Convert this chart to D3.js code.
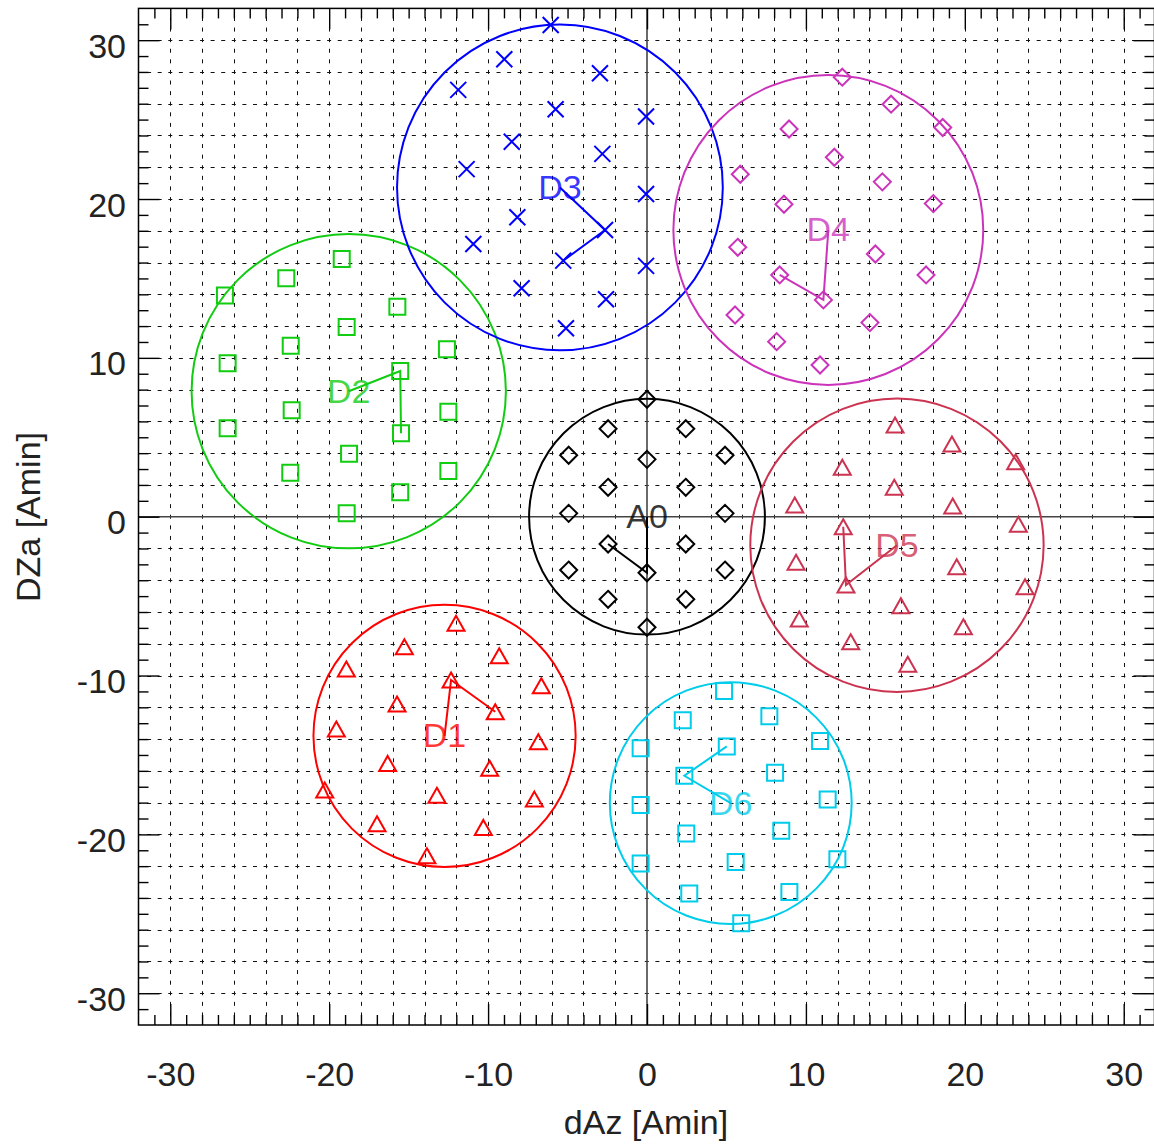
<!DOCTYPE html>
<html>
<head>
<meta charset="utf-8">
<script src="https://cdn.jsdelivr.net/npm/d3@7"></script>
<style>
  html, body { margin: 0; padding: 0; background: #fff; }
  svg { display: block; font-family: "Liberation Sans", Arial, Helvetica, sans-serif; }
</style>
</head>
<body>
<svg id="chart" width="1154" height="1147"></svg>
<script>
// ---------------- DATA ----------------
const xMajorTicks = [-30, -20, -10, 0, 10, 20, 30];
const yMajorTicks = [-30, -20, -10, 0, 10, 20, 30];
const xTitle = "dAz [Amin]";
const yTitle = "DZa [Amin]";

const groupNames = ["A0", "D1", "D2", "D3", "D4", "D5", "D6"];
const groupSymbols = ["diamond", "triangle", "square", "cross", "diamond", "triangle", "square"];

// circle centres and radii
const centerX = [0, -12.74, -18.77, -5.48, 11.41, 15.73, 5.27];
const centerY = [0, -13.80, 7.90, 20.73, 18.05, -1.80, -18.03];
const radius  = [7.42, 8.25, 9.89, 10.25, 9.75, 9.23, 7.61];

// path from centre through two points
const pathAX = [0, -12.33, -15.53, -2.64, 11.10, 12.52, 2.35];
const pathAY = [-3.53, -10.28, 9.17, 18.05, 13.65, -4.30, -16.31];
const pathBX = [-2.45, -9.55, -15.48, -5.27, 8.35, 12.35, 5.02];
const pathBY = [-1.72, -12.28, 5.25, 16.12, 15.22, -0.63, -14.46];

const a0X = [0, -2.45, 2.44, -4.93, 0, 4.91, -2.45, 2.44, -4.93, 4.91, -2.45, 2.44, 0, -4.93, 4.91, -2.45, 2.44, 0];
const a0Y = [7.39, 5.54, 5.54, 3.87, 3.61, 3.87, 1.85, 1.85, 0.21, 0.21, -1.72, -1.72, -3.53, -3.36, -3.36, -5.20, -5.20, -6.96];

const d1X = [-12.02, -15.27, -9.30, -18.92, -12.33, -6.65, -15.73, -9.55, -19.55, -6.84, -16.32, -9.90, -20.28, -13.22, -7.09, -16.99, -10.30, -13.85];
const d1Y = [-6.71, -8.19, -8.75, -9.59, -10.28, -10.64, -11.79, -12.28, -13.37, -14.17, -15.53, -15.84, -17.21, -17.54, -17.78, -19.33, -19.56, -21.35];

const d2X = [-19.21, -22.70, -26.56, -15.71, -18.90, -22.42, -12.59, -26.39, -15.53, -22.36, -12.50, -26.39, -15.48, -18.75, -22.45, -12.50, -15.53, -18.90];
const d2Y = [16.23, 15.01, 13.92, 13.22, 11.95, 10.77, 10.54, 9.66, 9.17, 6.70, 6.61, 5.57, 5.25, 3.97, 2.77, 2.88, 1.54, 0.21];

const d3X = [-6.06, -8.98, -2.96, -11.88, -5.75, -0.06, -8.51, -2.81, -11.35, -0.06, -8.16, -2.64, -10.93, -5.27, -0.06, -7.89, -2.58, -5.10];
const d3Y = [30.96, 28.80, 27.92, 26.87, 25.65, 25.19, 23.61, 22.84, 21.88, 20.32, 18.85, 18.05, 17.17, 16.12, 15.79, 14.38, 13.69, 11.86];

const d4X = [12.29, 15.36, 8.94, 18.61, 11.79, 5.87, 14.81, 8.62, 18.02, 5.71, 14.37, 8.35, 17.56, 11.10, 5.54, 14.03, 8.16, 10.89];
const d4Y = [27.67, 25.97, 24.41, 24.50, 22.63, 21.56, 21.08, 19.67, 19.71, 16.96, 16.54, 15.22, 15.22, 13.65, 12.70, 12.22, 11.02, 9.55];

const d5X = [15.61, 19.19, 12.29, 23.20, 15.56, 9.30, 19.24, 12.35, 23.37, 9.38, 19.49, 12.52, 23.79, 15.98, 9.58, 19.91, 12.82, 16.41];
const d5Y = [5.77, 4.58, 3.11, 3.46, 1.85, 0.74, 0.67, -0.63, -0.48, -2.87, -3.15, -4.30, -4.41, -5.60, -6.44, -6.93, -7.87, -9.29];

const d6X = [4.85, 2.25, 7.70, -0.40, 5.02, 10.89, 2.35, 8.06, -0.40, 11.37, 2.47, 8.45, -0.40, 5.58, 11.98, 2.66, 8.96, 5.93];
const d6Y = [-10.98, -12.82, -12.57, -14.58, -14.46, -14.12, -16.31, -16.12, -18.15, -17.80, -19.94, -19.77, -21.83, -21.74, -21.56, -23.72, -23.62, -25.60];

const groupXs = [a0X, d1X, d2X, d3X, d4X, d5X, d6X];
const groupYs = [a0Y, d1Y, d2Y, d3Y, d4Y, d5Y, d6Y];

// ---------------- STYLE ----------------
const groupColors = ["#000000", "#ff0000", "#11cc11", "#0000ff", "#cc33bb", "#cc3350", "#00cceb"];

// ---------------- LAYOUT ----------------
const svg = d3.select("#chart");
const L = 138.5, R = 1155.5, T = 8.4, B = 1025;
const x = d3.scaleLinear().domain([-32, 32]).range([L, R]);
const y = d3.scaleLinear().domain([-32, 32]).range([B, T]);
const FS = 34;
const snap = v => Math.round(v) + 0.5;

const clipId = "plotclip";
svg.append("defs").append("clipPath").attr("id", clipId)
  .append("rect").attr("x", L).attr("y", T).attr("width", R - L).attr("height", B - T);

// grid: dashed lines every 2 units
const gridVals = d3.range(-30, 31, 2).filter(v => v !== 0);
const grid = svg.append("g").attr("clip-path", `url(#${clipId})`);
grid.selectAll("line.gx").data(gridVals).join("line")
  .attr("x1", d => snap(x(d))).attr("x2", d => snap(x(d))).attr("y1", T).attr("y2", B)
  .attr("stroke", "#111").attr("stroke-width", 1)
  .attr("stroke-dasharray", "4 6.59").attr("stroke-dashoffset", 2);
grid.selectAll("line.gy").data(gridVals).join("line")
  .attr("y1", d => snap(y(d))).attr("y2", d => snap(y(d))).attr("x1", L).attr("x2", R)
  .attr("stroke", "#111").attr("stroke-width", 1)
  .attr("stroke-dasharray", "4 6.59").attr("stroke-dashoffset", 2);

// zero axes
grid.append("line").attr("x1", x(0)).attr("x2", x(0)).attr("y1", T).attr("y2", B)
  .attr("stroke", "#444").attr("stroke-width", 1.6);
grid.append("line").attr("y1", y(0)).attr("y2", y(0)).attr("x1", L).attr("x2", R)
  .attr("stroke", "#444").attr("stroke-width", 1.6);

// axes ticks
const minorVals = d3.range(-31, 32, 1).filter(v => v % 10 !== 0);
function styleAxis(g) {
  g.select(".domain").remove();
  g.selectAll(".tick line").attr("stroke", "#000").attr("stroke-width", 1.4);
}
const fmt = d => String(d);

svg.append("g").attr("transform", `translate(0,${B})`)
  .call(d3.axisBottom(x).tickValues(minorVals).tickSize(-10).tickSizeOuter(0).tickFormat(""))
  .call(styleAxis);
const gxB = svg.append("g").attr("transform", `translate(0,${B})`)
  .call(d3.axisBottom(x).tickValues(xMajorTicks).tickSize(-21).tickSizeOuter(0).tickFormat(fmt))
  .call(styleAxis);
gxB.selectAll(".tick text").attr("y", 61).attr("dy", 0)
  .attr("font-size", FS).attr("fill", "#222").attr("font-family", "Liberation Sans, Arial, sans-serif");

svg.append("g").attr("transform", `translate(0,${T})`)
  .call(d3.axisTop(x).tickValues(minorVals).tickSize(-10).tickSizeOuter(0).tickFormat(""))
  .call(styleAxis);
svg.append("g").attr("transform", `translate(0,${T})`)
  .call(d3.axisTop(x).tickValues(xMajorTicks).tickSize(-21).tickSizeOuter(0).tickFormat(""))
  .call(styleAxis);

svg.append("g").attr("transform", `translate(${L},0)`)
  .call(d3.axisLeft(y).tickValues(minorVals).tickSize(-10).tickSizeOuter(0).tickFormat(""))
  .call(styleAxis);
const gyL = svg.append("g").attr("transform", `translate(${L},0)`)
  .call(d3.axisLeft(y).tickValues(yMajorTicks).tickSize(-21).tickSizeOuter(0).tickFormat(fmt))
  .call(styleAxis);
gyL.selectAll(".tick text").attr("x", -(L - 126)).attr("dy", 17)
  .attr("font-size", FS).attr("fill", "#222").attr("text-anchor", "end")
  .attr("font-family", "Liberation Sans, Arial, sans-serif");

svg.append("g").attr("transform", `translate(${R - 1},0)`)
  .call(d3.axisRight(y).tickValues(minorVals).tickSize(-10).tickSizeOuter(0).tickFormat(""))
  .call(styleAxis);
svg.append("g").attr("transform", `translate(${R - 1},0)`)
  .call(d3.axisRight(y).tickValues(yMajorTicks).tickSize(-21).tickSizeOuter(0).tickFormat(""))
  .call(styleAxis);

// frame
svg.append("rect").attr("x", L).attr("y", T).attr("width", R - L - 1).attr("height", B - T)
  .attr("fill", "none").attr("stroke", "#000").attr("stroke-width", 1.5);

// axis titles
svg.append("text").attr("x", 646).attr("y", 1134).attr("text-anchor", "middle")
  .attr("font-size", FS).attr("fill", "#222").text(xTitle);
svg.append("text").attr("transform", "translate(39.5,517) rotate(-90)").attr("text-anchor", "middle")
  .attr("font-size", FS).attr("fill", "#222").text(yTitle);

// symbols
function symbolPath(kind) {
  switch (kind) {
    case "diamond": return "M0,-8.5L8.5,0L0,8.5L-8.5,0Z";
    case "square": return "M-8,-8L8,-8L8,8L-8,8Z";
    case "triangle": return "M0,-7.5L8.5,7.5L-8.5,7.5Z";
    case "cross": return "M-8,-8L8,8M8,-8L-8,8";
  }
}

const plot = svg.append("g").attr("clip-path", `url(#${clipId})`);
groupNames.forEach((name, i) => {
  const col = groupColors[i];
  const g = plot.append("g");
  g.append("circle")
    .attr("cx", x(centerX[i])).attr("cy", y(centerY[i]))
    .attr("r", x(radius[i]) - x(0))
    .attr("fill", "none").attr("stroke", col).attr("stroke-width", 2);
  const pts = groupXs[i].map((vx, k) => [vx, groupYs[i][k]]);
  g.selectAll("path.m").data(pts).join("path")
    .attr("transform", d => `translate(${x(d[0])},${y(d[1])})`)
    .attr("d", symbolPath(groupSymbols[i]))
    .attr("fill", "none").attr("stroke", col).attr("stroke-width", 2);
  const line = d3.line().x(d => x(d[0])).y(d => y(d[1]));
  g.append("path")
    .attr("d", line([[centerX[i], centerY[i]], [pathAX[i], pathAY[i]], [pathBX[i], pathBY[i]]]))
    .attr("fill", "none").attr("stroke", col).attr("stroke-width", 2);
});
groupNames.forEach((name, i) => {
  plot.append("text")
    .attr("x", x(centerX[i])).attr("y", y(centerY[i]) + 11.5)
    .attr("text-anchor", "middle").attr("font-size", FS)
    .attr("fill", groupColors[i]).attr("fill-opacity", 0.78)
    .text(name);
});
</script>
</body>
</html>
